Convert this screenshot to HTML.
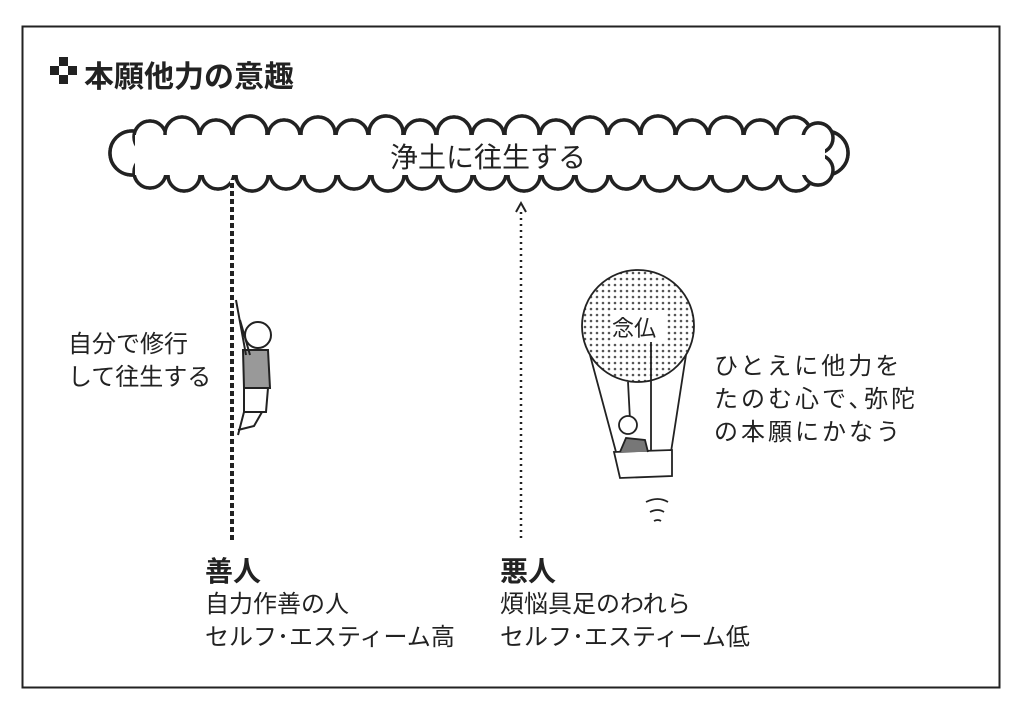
<!DOCTYPE html>
<html><head><meta charset="utf-8"><style>
body{margin:0;width:1024px;height:713px;background:#fff;position:relative;overflow:hidden;font-family:"Liberation Sans","Noto Sans CJK JP",sans-serif;color:#222}
.t{position:absolute;white-space:nowrap}
</style></head><body>
<svg width="1024" height="713" style="position:absolute;left:0;top:0">
<defs><pattern id="dots" width="6" height="6" patternUnits="userSpaceOnUse"><circle cx="3" cy="3" r="1.3" fill="#555"/></pattern></defs>
<rect x="22.5" y="26.5" width="977" height="661" fill="none" stroke="#222" stroke-width="2"/>
<g fill="#222"><rect x="50" y="66" width="9" height="9"/><rect x="59" y="57" width="9" height="9"/><rect x="68" y="66" width="9" height="9"/><rect x="59" y="75" width="9" height="9"/></g>
<g id="cl" stroke="#222" stroke-width="3.5" fill="#fff">
<circle cx="132" cy="153" r="22"/><circle cx="826" cy="153" r="22"/>
<circle cx="150" cy="137" r="16"/><circle cx="182" cy="134" r="17"/><circle cx="216" cy="136" r="16"/><circle cx="250" cy="133" r="17"/><circle cx="284" cy="136" r="16"/><circle cx="318" cy="134" r="17"/><circle cx="352" cy="136" r="16"/><circle cx="386" cy="133" r="17"/><circle cx="420" cy="136" r="16"/><circle cx="454" cy="134" r="17"/><circle cx="488" cy="136" r="16"/><circle cx="522" cy="133" r="17"/><circle cx="556" cy="136" r="16"/><circle cx="590" cy="134" r="17"/><circle cx="624" cy="136" r="16"/><circle cx="658" cy="133" r="17"/><circle cx="692" cy="136" r="16"/><circle cx="726" cy="134" r="17"/><circle cx="760" cy="136" r="16"/><circle cx="794" cy="134" r="17"/><circle cx="818" cy="138" r="15"/>
<circle cx="150" cy="172" r="16"/><circle cx="184" cy="175" r="16"/><circle cx="218" cy="173" r="16"/><circle cx="252" cy="175" r="16"/><circle cx="286" cy="173" r="16"/><circle cx="320" cy="175" r="16"/><circle cx="354" cy="173" r="16"/><circle cx="388" cy="175" r="16"/><circle cx="422" cy="173" r="16"/><circle cx="456" cy="175" r="16"/><circle cx="490" cy="173" r="16"/><circle cx="524" cy="175" r="16"/><circle cx="558" cy="173" r="16"/><circle cx="592" cy="175" r="16"/><circle cx="626" cy="173" r="16"/><circle cx="660" cy="175" r="16"/><circle cx="694" cy="173" r="16"/><circle cx="728" cy="175" r="16"/><circle cx="762" cy="173" r="16"/><circle cx="796" cy="175" r="16"/><circle cx="818" cy="170" r="15"/>
</g>
<g fill="#fff"><use href="#cl" stroke="none"/></g>
<rect x="135" y="135" width="690" height="40" fill="#fff"/>
<line x1="232" y1="180" x2="232" y2="540" stroke="#222" stroke-width="4"/>
<line x1="232" y1="180" x2="232" y2="540" stroke="#fff" stroke-width="4" stroke-dasharray="3 5"/>
<line x1="521" y1="212" x2="521" y2="540" stroke="#222" stroke-width="2.5" stroke-dasharray="2 4"/>
<path d="M516,212 L521,203 L526,212" fill="none" stroke="#222" stroke-width="2"/>
<g stroke="#222" stroke-width="2" fill="#fff">
<circle cx="258" cy="335" r="13"/>
<path d="M243,350 L268,350 L270,388 L244,388 Z" fill="#999"/>
<path d="M244,388 L268,388 L266,412 L244,412 Z" fill="#fff"/>
<path d="M244,412 L238,435 M262,412 L254,426 L238,430" fill="none"/>
<path d="M246,355 L236,300 M250,355 L240,320" fill="none"/>
</g>
<g stroke="#222" stroke-width="1.8" fill="none">
<circle cx="638" cy="326" r="56" fill="url(#dots)"/>
<rect x="613" y="310" width="54" height="32" fill="#fff" stroke="none"/>
<path d="M590,355 L616,452 M686,355 L671,452 M628,382 L630,420 M651,342 L651,452"/>
<path d="M614,452 L672,450 L672,476 L620,478 Z" fill="#fff"/>
<circle cx="628" cy="425" r="9" fill="#fff"/>
<path d="M620,452 L626,438 L645,440 L648,452" fill="#777"/>
<path d="M646,502 q12,-6 22,0 M650,512 q8,-4 14,0 M654,521 q4,-2 7,0"/>
</g>
</svg>
<div class="t" style="left:84px;top:52px;font-size:30px;font-weight:bold">本願他力の意趣</div>
<div class="t" style="left:390px;top:136px;font-size:28px">浄土に往生する</div>
<div class="t" style="left:68px;top:328px;font-size:24px;line-height:33px">自分で修行<br>して往生する</div>
<div class="t" style="left:612px;top:311px;font-size:22px">念仏</div>
<div class="t" style="left:714px;top:350px;font-size:24px;line-height:33px;letter-spacing:3px">ひとえに他力を<br>たのむ心で､弥陀<br>の本願にかなう</div>
<div class="t" style="left:205px;top:550px;font-size:28px;font-weight:bold">善人</div>
<div class="t" style="left:205px;top:588px;font-size:24px;line-height:33px">自力作善の人<br>セルフ･エスティーム高</div>
<div class="t" style="left:500px;top:550px;font-size:28px;font-weight:bold">悪人</div>
<div class="t" style="left:500px;top:588px;font-size:24px;line-height:33px">煩悩具足のわれら<br>セルフ･エスティーム低</div>
</body></html>
